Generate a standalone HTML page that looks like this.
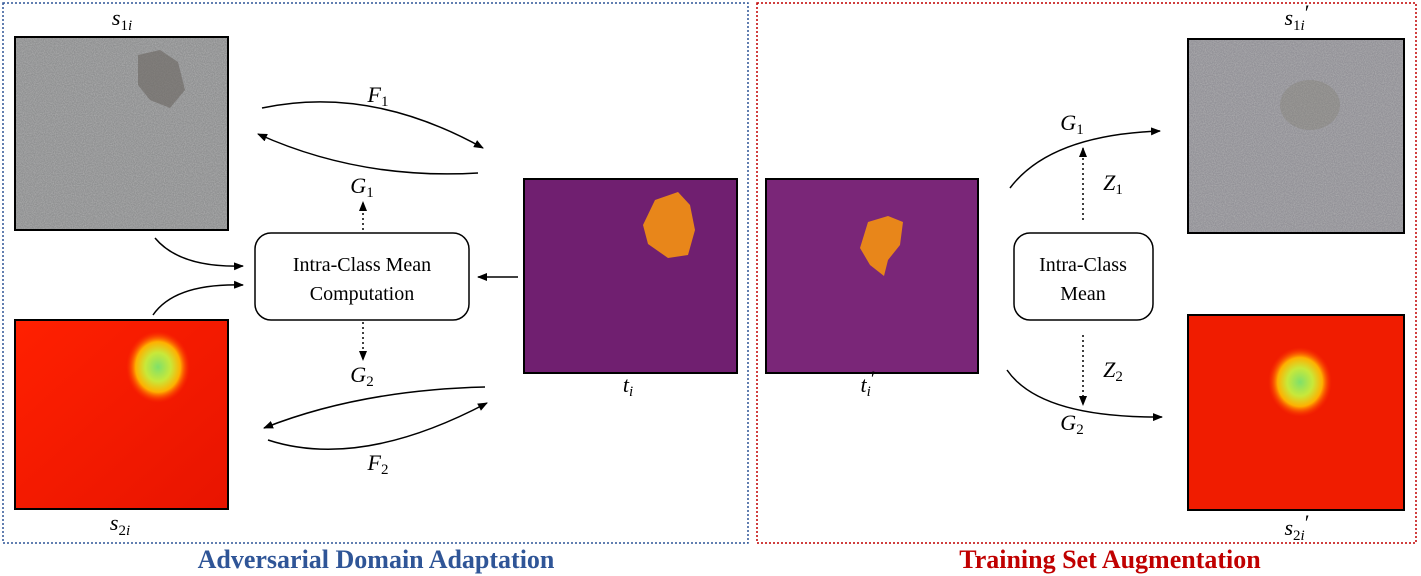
<!DOCTYPE html>
<html><head><meta charset="utf-8"><style>
body{margin:0;background:#fff;}
svg{display:block;font-family:"Liberation Serif",serif;}
</style></head><body>
<svg width="1421" height="576" viewBox="0 0 1421 576">
<defs>
<marker id="ah" markerWidth="10" markerHeight="8" refX="9" refY="4" orient="auto" markerUnits="userSpaceOnUse"><path d="M0,0 L10,4 L0,8 Z" fill="#000"/></marker>
<filter id="grain" x="0" y="0" width="100%" height="100%">
<feTurbulence type="fractalNoise" baseFrequency="0.9" numOctaves="2" seed="3" result="n"/>
<feColorMatrix in="n" type="matrix" values="0 0 0 0 0.5  0 0 0 0 0.5  0 0 0 0 0.5  0 0 0 1.6 -0.5" result="m"/>
<feComposite in="m" in2="SourceGraphic" operator="in"/>
</filter>
<radialGradient id="hot1" cx="0.5" cy="0.5" r="0.5"><stop offset="0" stop-color="#7fe06a"/><stop offset="0.4" stop-color="#c8e83a"/><stop offset="0.7" stop-color="#ffb000"/><stop offset="1" stop-color="#ff3000" stop-opacity="0"/></radialGradient>
<linearGradient id="redbg" x1="0" y1="0" x2="1" y2="1"><stop offset="0" stop-color="#ff2000"/><stop offset="1" stop-color="#e81400"/></linearGradient>
</defs>
<rect x="3" y="3" width="745" height="540" fill="none" stroke="#2f5597" stroke-width="1.5" stroke-dasharray="2,2"/>
<rect x="757" y="3" width="659" height="540" fill="none" stroke="#c00000" stroke-width="1.5" stroke-dasharray="2,2"/>

<g>
<rect x="15" y="37" width="213" height="193" fill="#909192"/>
<rect x="15" y="37" width="213" height="193" fill="#b0b0b0" filter="url(#grain)" opacity="0.7"/>
<path d="M138,55 L160,50 L178,62 L185,90 L170,108 L150,100 L138,85 Z" fill="#6a6560" opacity="0.6"/>
<rect x="15" y="37" width="213" height="193" fill="none" stroke="#000" stroke-width="2"/>
</g>
<g>
<rect x="15" y="320" width="213" height="189" fill="url(#redbg)"/>
<ellipse cx="158" cy="367" rx="32" ry="36" fill="url(#hot1)"/>
<rect x="15" y="320" width="213" height="189" fill="none" stroke="#000" stroke-width="2"/>
</g>
<g>
<rect x="524" y="179" width="213" height="194" fill="#701f70" stroke="#000" stroke-width="2"/>
<path d="M655,200 L678,192 L690,205 L695,230 L688,255 L668,258 L648,244 L643,225 Z" fill="#e8861a"/>
</g>
<g>
<rect x="766" y="179" width="212" height="194" fill="#7a2678" stroke="#000" stroke-width="2"/>
<path d="M868,222 L888,216 L903,222 L900,245 L888,260 L884,276 L870,265 L860,248 Z" fill="#e8861a"/>
</g>
<g>
<rect x="1188" y="39" width="216" height="194" fill="#939298"/>
<rect x="1188" y="39" width="216" height="194" fill="#c0c0c0" filter="url(#grain)" opacity="0.7"/>
<ellipse cx="1310" cy="105" rx="30" ry="25" fill="#7f7a6a" opacity="0.3"/>
<rect x="1188" y="39" width="216" height="194" fill="none" stroke="#000" stroke-width="2"/>
</g>
<g>
<rect x="1188" y="315" width="216" height="195" fill="#f01c00"/>
<ellipse cx="1300" cy="382" rx="32" ry="35" fill="url(#hot1)"/>
<rect x="1188" y="315" width="216" height="195" fill="none" stroke="#000" stroke-width="2"/>
</g>

<rect x="255" y="233" width="214" height="87" rx="16" fill="#fff" stroke="#000" stroke-width="1.5"/>
<text x="362" y="271" font-size="20" text-anchor="middle">Intra-Class Mean</text>
<text x="362" y="300" font-size="20" text-anchor="middle">Computation</text>
<rect x="1014" y="233" width="139" height="87" rx="16" fill="#fff" stroke="#000" stroke-width="1.5"/>
<text x="1083" y="271" font-size="20" text-anchor="middle">Intra-Class</text>
<text x="1083" y="300" font-size="20" text-anchor="middle">Mean</text>

<g fill="none" stroke="#000" stroke-width="1.5" marker-end="url(#ah)">
<path d="M262,108 Q370,85 483,148"/>
<path d="M478,173 Q360,180 258,134"/>
<path d="M155,238 Q180,268 243,266"/>
<path d="M153,315 Q175,283 243,285"/>
<path d="M518,277 L478,277"/>
<path d="M485,387 Q360,390 264,428"/>
<path d="M268,440 Q360,470 487,403"/>
<path d="M1010,188 Q1050,135 1160,131"/>
<path d="M1007,370 Q1040,418 1162,417"/>
</g>
<g fill="none" stroke="#000" stroke-width="1.5" stroke-dasharray="2,3" marker-end="url(#ah)">
<path d="M363,230 L363,202"/>
<path d="M363,322 L363,360"/>
<path d="M1083,220 L1083,148"/>
<path d="M1083,335 L1083,405"/>
</g>

<g font-size="22" font-style="italic" text-anchor="middle">
<text x="122" y="25">s<tspan font-size="15" dy="5" font-style="normal">1</tspan><tspan font-size="15">i</tspan></text>
<text x="120" y="530">s<tspan font-size="15" dy="5" font-style="normal">2</tspan><tspan font-size="15">i</tspan></text>
<text x="628" y="392">t<tspan font-size="15" dy="4">i</tspan></text>
<text x="868" y="392">t<tspan font-size="15" dy="4">i</tspan><tspan dy="-10" font-style="normal">′</tspan></text>
<text x="1297" y="25">s<tspan font-size="15" dy="5" font-style="normal">1</tspan><tspan font-size="15">i</tspan><tspan dy="-10" font-style="normal">′</tspan></text>
<text x="1297" y="535">s<tspan font-size="15" dy="5" font-style="normal">2</tspan><tspan font-size="15">i</tspan><tspan dy="-10" font-style="normal">′</tspan></text>
<text x="378" y="102">F<tspan font-size="15" dy="4" font-style="normal">1</tspan></text>
<text x="362" y="193">G<tspan font-size="15" dy="4" font-style="normal">1</tspan></text>
<text x="362" y="382">G<tspan font-size="15" dy="4" font-style="normal">2</tspan></text>
<text x="378" y="470">F<tspan font-size="15" dy="4" font-style="normal">2</tspan></text>
<text x="1072" y="130">G<tspan font-size="15" dy="4" font-style="normal">1</tspan></text>
<text x="1113" y="190">Z<tspan font-size="15" dy="4" font-style="normal">1</tspan></text>
<text x="1113" y="377">Z<tspan font-size="15" dy="4" font-style="normal">2</tspan></text>
<text x="1072" y="430">G<tspan font-size="15" dy="4" font-style="normal">2</tspan></text>
</g>

<text x="376" y="568" font-size="26" font-weight="bold" fill="#2f5597" text-anchor="middle">Adversarial Domain Adaptation</text>
<text x="1110" y="568" font-size="26" font-weight="bold" fill="#c00000" text-anchor="middle">Training Set Augmentation</text>
</svg>
</body></html>
